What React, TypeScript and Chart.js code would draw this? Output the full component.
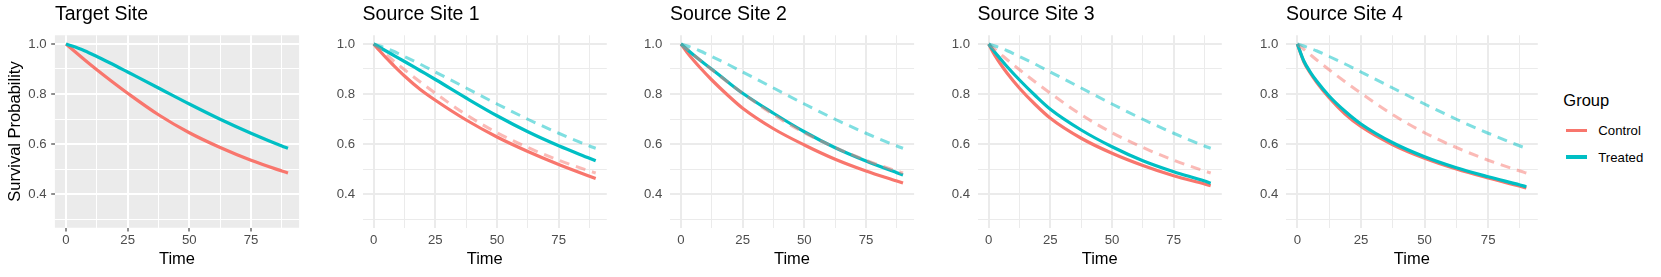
import React, { useEffect, useRef } from "react";
import { Chart, registerables } from "chart.js";

Chart.register(...registerables);

// ---------------- data ----------------
const time = [0, 2.5, 5, 7.5, 12.5, 18.75, 25, 37.5, 50, 62.5, 75, 87.5, 90];

const targetControl = [1.0, 0.979, 0.958, 0.937, 0.897, 0.849, 0.803, 0.717, 0.645, 0.586, 0.535, 0.492, 0.484];
const targetTreated = [1.0, 0.992, 0.983, 0.973, 0.95, 0.92, 0.888, 0.824, 0.76, 0.699, 0.643, 0.592, 0.583];

const site1Control = [1.0, 0.972, 0.945, 0.92, 0.872, 0.819, 0.775, 0.696, 0.628, 0.57, 0.518, 0.471, 0.462];
const site1Treated = [1.0, 0.986, 0.972, 0.958, 0.93, 0.894, 0.858, 0.784, 0.713, 0.649, 0.593, 0.543, 0.533];
const site2Control = [1.0, 0.966, 0.936, 0.908, 0.856, 0.797, 0.743, 0.661, 0.596, 0.539, 0.492, 0.452, 0.444];
const site2Treated = [1.0, 0.978, 0.957, 0.937, 0.899, 0.85, 0.803, 0.723, 0.649, 0.585, 0.532, 0.485, 0.476];
const site3Control = [1.0, 0.954, 0.917, 0.883, 0.823, 0.759, 0.703, 0.623, 0.563, 0.514, 0.473, 0.44, 0.433];
const site3Treated = [1.0, 0.967, 0.938, 0.909, 0.856, 0.795, 0.739, 0.656, 0.589, 0.533, 0.489, 0.452, 0.443];
const site4Control = [1.0, 0.93, 0.885, 0.848, 0.785, 0.72, 0.67, 0.597, 0.543, 0.5, 0.464, 0.431, 0.424];
const site4Treated = [1.0, 0.933, 0.889, 0.853, 0.792, 0.731, 0.68, 0.605, 0.549, 0.505, 0.469, 0.436, 0.429];

const panelTitles = ["Target Site", "Source Site 1", "Source Site 2", "Source Site 3", "Source Site 4"];
const groups = ["Control", "Treated"];
const legendTitle = "Group";
const xAxisTitle = "Time";
const yAxisTitle = "Survival Probability";

const xMajorTicks = [0, 25, 50, 75];
const xMinorTicks = [12.5, 37.5, 62.5, 87.5];
const yMajorTicks = [0.4, 0.6, 0.8, 1.0];
const yMinorTicks = [0.3, 0.5, 0.7, 0.9];
const xRange = [-4.5, 94.5];
const yRange = [0.265, 1.035];

const siteSeries = [
  [targetControl, targetTreated],
  [site1Control, site1Treated],
  [site2Control, site2Treated],
  [site3Control, site3Treated],
  [site4Control, site4Treated],
];

// ---------------- style / layout ----------------
const FONT = "'Liberation Sans', Arial, Helvetica, sans-serif";
const RED = "#F8766D";
const CYAN = "#00BFC4";
const RED_A = "rgba(248,118,109,0.5)";
const CYAN_A = "rgba(0,191,196,0.5)";
const H = 277;
const PANEL_TOP = 35.25;
const PANEL_BOTTOM = 227.75;
const panelLayout = [
  { left: 54.9, width: 244.2 },
  { left: 362.6, width: 244.2 },
  { left: 669.9, width: 244.2 },
  { left: 977.6, width: 244.2 },
  { left: 1285.9, width: 251.9 },
];

const near = (arr: number[], v: number) => arr.some((a) => Math.abs(a - v) < 1e-6);

function Panel({ idx }: { idx: number }) {
  const ref = useRef<HTMLCanvasElement | null>(null);
  const isTarget = idx === 0;
  const lay = panelLayout[idx];
  const canvasLeft = isTarget ? 0 : Math.floor(lay.left - 40);
  const yW = lay.left - canvasLeft;
  const canvasW = Math.ceil(yW + lay.width + 4);
  const rightPad = canvasW - yW - lay.width;

  useEffect(() => {
    if (!ref.current) return;
    const toPts = (vals: number[]) => time.map((t, i) => ({ x: t, y: vals[i] }));
    const [ctrl, trt] = siteSeries[idx];
    const datasets: any[] = [
      { label: groups[0], data: toPts(ctrl), borderColor: RED, borderWidth: 3.2, order: 3 },
      { label: groups[1], data: toPts(trt), borderColor: CYAN, borderWidth: 3.2, order: 2 },
    ];
    if (!isTarget) {
      datasets.push(
        {
          label: groups[0] + " (target)",
          data: toPts(targetControl),
          borderColor: RED_A,
          borderWidth: 3,
          borderDash: [10, 7],
          order: 1,
        },
        {
          label: groups[1] + " (target)",
          data: toPts(targetTreated),
          borderColor: CYAN_A,
          borderWidth: 3,
          borderDash: [10, 7],
          order: 0,
        }
      );
    }
    datasets.forEach((d) => {
      d.pointRadius = 0;
      d.fill = false;
      d.cubicInterpolationMode = "monotone";
      d.borderJoinStyle = "round";
    });

    const gridColor = isTarget ? "#FFFFFF" : "#EBEBEB";
    const bgPlugin = {
      id: "panelBg",
      beforeDraw(chart: any) {
        if (!isTarget) return;
        const { ctx, chartArea } = chart;
        ctx.save();
        ctx.fillStyle = "#EBEBEB";
        ctx.fillRect(chartArea.left, chartArea.top, chartArea.right - chartArea.left, chartArea.bottom - chartArea.top);
        ctx.restore();
      },
    };

    const chart = new Chart(ref.current, {
      type: "line",
      data: { datasets },
      plugins: [bgPlugin],
      options: {
        animation: false,
        responsive: false,
        maintainAspectRatio: false,
        devicePixelRatio: 1,
        events: [],
        layout: { padding: { left: 0, right: rightPad, top: 0, bottom: 0 }, autoPadding: false } as any,
        plugins: {
          legend: { display: false },
          tooltip: { enabled: false },
          title: {
            display: true,
            text: panelTitles[idx],
            align: "start",
            fullSize: false,
            color: "#000000",
            font: { family: FONT, size: 19.5, weight: "normal" },
            padding: { top: 2.6, bottom: PANEL_TOP - 2.6 - 19.5 * 1.2 },
          },
        },
        scales: {
          x: {
            type: "linear",
            min: xRange[0],
            max: xRange[1],
            afterBuildTicks: (s: any) => {
              s.ticks = [...xMajorTicks, ...xMinorTicks].sort((a, b) => a - b).map((v) => ({ value: v }));
            },
            afterFit: (s: any) => {
              s.height = H - PANEL_BOTTOM;
            },
            ticks: {
              autoSkip: false,
              maxRotation: 0,
              padding: 0.6,
              color: "#4D4D4D",
              font: { family: FONT, size: 13.2 },
              callback: (v: any) => (near(xMajorTicks, Number(v)) ? String(v) : ""),
            },
            grid: {
              color: gridColor,
              lineWidth: (c: any) => (c.tick && near(xMajorTicks, c.tick.value) ? 2 : 1),
              drawTicks: true,
              tickLength: 3.7,
              tickWidth: 1.1,
              tickColor: (c: any) => (isTarget && c.tick && near(xMajorTicks, c.tick.value) ? "#333333" : "rgba(0,0,0,0)"),
            },
            border: { display: false },
            title: {
              display: true,
              text: xAxisTitle,
              color: "#000000",
              font: { family: FONT, size: 16.5 },
              padding: { top: 0, bottom: 7.9 },
            },
          },
          y: {
            type: "linear",
            min: yRange[0],
            max: yRange[1],
            afterBuildTicks: (s: any) => {
              s.ticks = [...yMinorTicks, ...yMajorTicks].sort((a, b) => a - b).map((v) => ({ value: v }));
            },
            afterFit: (s: any) => {
              s.width = yW;
            },
            ticks: {
              autoSkip: false,
              padding: isTarget ? 4.5 : 3.9,
              color: "#4D4D4D",
              font: { family: FONT, size: 13.2 },
              callback: (v: any) => (near(yMajorTicks, Number(v)) ? Number(v).toFixed(1) : ""),
            },
            grid: {
              color: gridColor,
              lineWidth: (c: any) => (c.tick && near(yMajorTicks, c.tick.value) ? 2 : 1),
              drawTicks: true,
              tickLength: 3.7,
              tickWidth: 1.1,
              tickColor: (c: any) => (isTarget && c.tick && near(yMajorTicks, c.tick.value) ? "#333333" : "rgba(0,0,0,0)"),
            },
            border: { display: false },
            title: {
              display: isTarget,
              text: yAxisTitle,
              color: "#000000",
              font: { family: FONT, size: 16.5 },
              padding: { top: 5.9, bottom: 0 },
            },
          },
        },
      } as any,
    });
    return () => chart.destroy();
  }, [idx]);

  return (
    <canvas
      ref={ref}
      width={canvasW}
      height={H}
      style={{ position: "absolute", left: canvasLeft, top: 0, width: canvasW, height: H }}
    />
  );
}

function Legend() {
  const colors = [RED, CYAN];
  const keyY = [130.5, 157];
  return (
    <>
      <div
        style={{
          position: "absolute",
          left: 1563.3,
          top: 91.7,
          fontFamily: FONT,
          fontSize: 16.5,
          lineHeight: "16.5px",
          color: "#000",
          whiteSpace: "nowrap",
        }}
      >
        {legendTitle}
      </div>
      {groups.map((g, i) => (
        <React.Fragment key={g}>
          <div
            style={{
              position: "absolute",
              left: 1565.7,
              top: keyY[i] - 1.6,
              width: 21,
              height: 3.2,
              background: colors[i],
            }}
          />
          <div
            style={{
              position: "absolute",
              left: 1598.3,
              top: keyY[i] + 4.7 - 11.2,
              fontFamily: FONT,
              fontSize: 13.2,
              lineHeight: "13.2px",
              color: "#000",
              whiteSpace: "nowrap",
            }}
          >
            {g}
          </div>
        </React.Fragment>
      ))}
    </>
  );
}

export default function App() {
  return (
    <div
      style={{
        position: "fixed",
        left: 0,
        top: 0,
        width: 1661,
        height: 277,
        background: "#FFFFFF",
        overflow: "hidden",
      }}
    >
      {panelTitles.map((_, i) => (
        <Panel key={i} idx={i} />
      ))}
      <Legend />
    </div>
  );
}
